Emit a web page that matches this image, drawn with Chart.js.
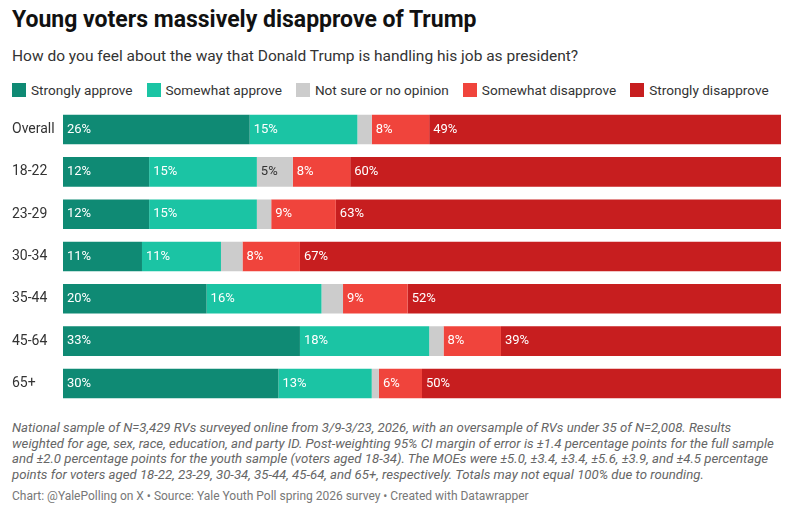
<!DOCTYPE html>
<html><head><meta charset="utf-8">
<script src="https://cdn.jsdelivr.net/npm/chart.js@4"></script>
<style>
body{margin:0;width:800px;height:514px;background:#fff;font-family:Roboto,"Noto Sans",sans-serif;position:relative;overflow:hidden}
#t{position:absolute;left:12px;top:6px;font-size:23px;font-weight:700;color:#111}
#s{position:absolute;left:12px;top:47px;font-size:15.5px;color:#333}
#lg{position:absolute;left:12px;top:82px;font-size:13.6px;color:#333;display:flex;white-space:nowrap}
#lg span{display:flex;align-items:center;margin-right:14px}
#lg i{display:inline-block;width:14px;height:14px;margin-right:5px}
#c{position:absolute;left:0;top:100px;width:781px;height:313px}
#n{position:absolute;left:12px;top:420px;font-size:13.2px;line-height:15.6px;font-style:italic;color:#666;white-space:nowrap}
#src{position:absolute;left:12px;top:489px;font-size:12px;color:#777}
</style></head><body>
<div id="t">Young voters massively disapprove of Trump</div>
<div id="s">How do you feel about the way that Donald Trump is handling his job as president?</div>
<div id="lg"></div>
<div id="c"><canvas id="g"></canvas></div>
<div id="n">National sample of N=3,429 RVs surveyed online from 3/9-3/23, 2026, with an oversample of RVs under 35 of N=2,008. Results<br>weighted for age, sex, race, education, and party ID. Post-weighting 95% CI margin of error is ±1.4 percentage points for the full sample<br>and ±2.0 percentage points for the youth sample (voters aged 18-34). The MOEs were ±5.0, ±3.4, ±3.4, ±5.6, ±3.9, and ±4.5 percentage<br>points for voters aged 18-22, 23-29, 30-34, 35-44, 45-64, and 65+, respectively. Totals may not equal 100% due to rounding.</div>
<div id="src">Chart: @YalePolling on X • Source: Yale Youth Poll spring 2026 survey • Created with Datawrapper</div>
<script>
var groups = ["Overall","18-22","23-29","30-34","35-44","45-64","65+"];
var seriesNames = ["Strongly approve","Somewhat approve","Not sure or no opinion","Somewhat disapprove","Strongly disapprove"];
var stronglyApprove = [26,12,12,11,20,33,30];
var somewhatApprove = [15,15,15,11,16,18,13];
var notSure = [2,5,2,3,3,2,1];
var somewhatDisapprove = [8,8,9,8,9,8,6];
var stronglyDisapprove = [49,60,63,67,52,39,50];
var colors = ["#0f8a74","#1bc4a4","#cccccc","#f0443c","#c71e1f"];
var allSeries = [stronglyApprove,somewhatApprove,notSure,somewhatDisapprove,stronglyDisapprove];

var lg = document.getElementById("lg");
seriesNames.forEach(function(n,i){
  lg.innerHTML += '<span><i style="background:'+colors[i]+'"></i>'+n+'</span>';
});

var labelPlugin = {
  id: "lbl",
  afterDatasetsDraw: function(chart){
    var ctx = chart.ctx;
    ctx.save();
    ctx.font = "13px Roboto";
    ctx.textBaseline = "middle";
    chart.data.datasets.forEach(function(ds,di){
      chart.getDatasetMeta(di).data.forEach(function(bar,j){
        var v = ds.data[j];
        if (v < 5) return;
        ctx.fillStyle = di == 2 ? "#333" : "#fff";
        var left = Math.min(bar.x, bar.base);
        ctx.fillText(v + "%", left + 4, bar.y);
      });
    });
    ctx.restore();
  }
};

new Chart(document.getElementById("g"), {
  type: "bar",
  data: {
    labels: groups,
    datasets: allSeries.map(function(d,i){
      return {label: seriesNames[i], data: d, backgroundColor: colors[i], barPercentage: 1, categoryPercentage: 0.7};
    })
  },
  options: {
    indexAxis: "y",
    responsive: true,
    maintainAspectRatio: false,
    animation: false,
    layout: {padding: {left: 12, top: 0, bottom: 0}},
    plugins: {legend: {display: false}, tooltip: {enabled: false}},
    scales: {
      x: {stacked: true, display: false, min: 0, max: 100},
      y: {
        stacked: true,
        grid: {display: false},
        border: {display: false},
        ticks: {color: "#333", font: {size: 14, family: "Roboto"}, crossAlign: "far", padding: 0},
        afterFit: function(s){ s.width = 51; }
      }
    }
  },
  plugins: [labelPlugin]
});
</script>
</body></html>
